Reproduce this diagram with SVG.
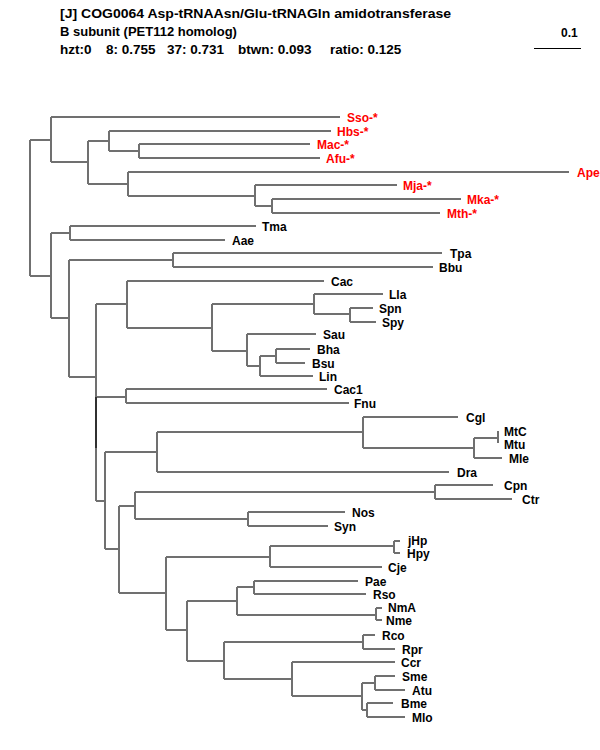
<svg xmlns="http://www.w3.org/2000/svg" width="600" height="750" viewBox="0 0 600 750">
<style>
text{font-family:"Liberation Sans",Arial,sans-serif;font-weight:bold;font-size:12px;fill:#000}
.hd{font-size:13px}
.h3{font-size:13.5px}
.ar{fill:#ff0000}
.br{fill:none;stroke:#707070;stroke-width:2}
.dk{fill:none;stroke:#303030;stroke-width:2}
</style>
<rect width="600" height="750" fill="#fff"/>
<g id="header">
<text class="hd" x="60" y="18" textLength="391" lengthAdjust="spacingAndGlyphs">[J] COG0064 Asp-tRNAAsn/Glu-tRNAGln amidotransferase</text>
<text class="hd" x="60" y="36">B subunit (PET112 homolog)</text>
<text class="h3" y="54"><tspan x="60">hzt:0</tspan><tspan x="106">8: 0.755</tspan><tspan x="167">37: 0.731</tspan><tspan x="238">btwn: 0.093</tspan><tspan x="330">ratio: 0.125</tspan></text>
</g>
<g id="scalebar">
<text x="561" y="37">0.1</text>
<path class="br" style="stroke:#000;stroke-width:1" d="M534 48.5H581"/>
</g>
<g id="connectors">
<path class="br" d="M30 140V276M30 140H51M30 276H51
M51 117V162M51 117H340M51 162H88
M88 141V184M88 141H109M88 184H128
M109 131V151M109 131H331M109 151H139
M139 144V158M139 144H310M139 158H320
M128 172V196M128 172H569M128 196H255
M255 185V206M255 185H397M255 206H272
M272 199V213M272 199H461M272 213H440
M51 233V318M51 233H70M51 318H69
M70 226V240M70 226H256M70 240H225
M69 260V377M69 260H173M69 377H96
M173 253V267M173 253H442M173 267H433
M96 304V397M96 448V501M96 304H127M96 397H126M96 501H105
M127 281V328M127 281H324M127 328H212
M212 304V351M212 304H314M212 351H247
M314 294V314M314 294H383M314 314H350
M350 308V322M350 308H373M350 322H376
M247 334V366M247 334H316M247 366H260
M260 356V376M260 356H276M260 376H313
M276 349V363M276 349H310M276 363H305
M126 389V403M126 389H327M126 403H349
M105 452V549M105 452H157M105 549H119
M157 432V472M157 432H363M157 472H449
M363 417V448M363 417H458M363 448H474
M474 438V458M474 438H498M474 458H502
M498 431V443
M119 506V593M119 506H135M119 593H166
M135 492V519M135 492H435M135 519H248
M435 485V499M435 485H493M435 499H512
M248 512V526M248 512H345M248 526H328
M166 557V630M166 557H270M166 630H187
M270 546V567M270 546H394M270 567H382
M394 541V553M394 541H400M394 553H400
M187 601V661M187 601H237M187 661H224
M237 587V615M237 587H254M237 615H376
M254 581V594M254 581H358M254 594H366
M376 608V620M376 608H382M376 620H382
M224 642V679M224 642H363M224 679H292
M363 635V649M363 635H375M363 649H395
M292 662V696M292 662H395M292 696H362
M362 683V710M362 683H375M362 710H367
M375 676V690M375 676H395M375 690H405
M367 703V717M367 703H393M367 717H405"/>
<path class="dk" d="M96 397V448"/>
</g>
<g id="leaf-Sso"><text class="ar" x="347" y="122">Sso-*</text></g>
<g id="leaf-Hbs"><text class="ar" x="337" y="136">Hbs-*</text></g>
<g id="leaf-Mac"><text class="ar" x="317" y="149">Mac-*</text></g>
<g id="leaf-Afu"><text class="ar" x="326" y="163">Afu-*</text></g>
<g id="leaf-Ape"><text class="ar" x="577" y="177">Ape-*</text></g>
<g id="leaf-Mja"><text class="ar" x="403" y="190">Mja-*</text></g>
<g id="leaf-Mka"><text class="ar" x="467" y="204">Mka-*</text></g>
<g id="leaf-Mth"><text class="ar" x="447" y="218">Mth-*</text></g>
<g id="leaf-Tma"><text x="262" y="231">Tma</text></g>
<g id="leaf-Aae"><text x="232" y="245">Aae</text></g>
<g id="leaf-Tpa"><text x="450" y="258">Tpa</text></g>
<g id="leaf-Bbu"><text x="439" y="272">Bbu</text></g>
<g id="leaf-Cac"><text x="331" y="286">Cac</text></g>
<g id="leaf-Lla"><text x="389" y="299">Lla</text></g>
<g id="leaf-Spn"><text x="379" y="313">Spn</text></g>
<g id="leaf-Spy"><text x="382" y="327">Spy</text></g>
<g id="leaf-Sau"><text x="323" y="339">Sau</text></g>
<g id="leaf-Bha"><text x="317" y="354">Bha</text></g>
<g id="leaf-Bsu"><text x="312" y="368">Bsu</text></g>
<g id="leaf-Lin"><text x="319" y="381">Lin</text></g>
<g id="leaf-Cac1"><text x="334" y="394">Cac1</text></g>
<g id="leaf-Fnu"><text x="354" y="408">Fnu</text></g>
<g id="leaf-Cgl"><text x="466" y="422">Cgl</text></g>
<g id="leaf-MtC"><text x="504" y="436">MtC</text></g>
<g id="leaf-Mtu"><text x="504" y="449">Mtu</text></g>
<g id="leaf-Mle"><text x="509" y="463">Mle</text></g>
<g id="leaf-Dra"><text x="457" y="477">Dra</text></g>
<g id="leaf-Cpn"><text x="504" y="490">Cpn</text></g>
<g id="leaf-Ctr"><text x="522" y="504">Ctr</text></g>
<g id="leaf-Nos"><text x="352" y="517">Nos</text></g>
<g id="leaf-Syn"><text x="334" y="531">Syn</text></g>
<g id="leaf-jHp"><text x="408" y="545">jHp</text></g>
<g id="leaf-Hpy"><text x="407" y="558">Hpy</text></g>
<g id="leaf-Cje"><text x="388" y="572">Cje</text></g>
<g id="leaf-Pae"><text x="365" y="586">Pae</text></g>
<g id="leaf-Rso"><text x="373" y="599">Rso</text></g>
<g id="leaf-NmA"><text x="388" y="612">NmA</text></g>
<g id="leaf-Nme"><text x="386" y="625">Nme</text></g>
<g id="leaf-Rco"><text x="382" y="640">Rco</text></g>
<g id="leaf-Rpr"><text x="402" y="654">Rpr</text></g>
<g id="leaf-Ccr"><text x="401" y="667">Ccr</text></g>
<g id="leaf-Sme"><text x="402" y="681">Sme</text></g>
<g id="leaf-Atu"><text x="412" y="695">Atu</text></g>
<g id="leaf-Bme"><text x="401" y="708">Bme</text></g>
<g id="leaf-Mlo"><text x="412" y="722">Mlo</text></g>
</svg>
